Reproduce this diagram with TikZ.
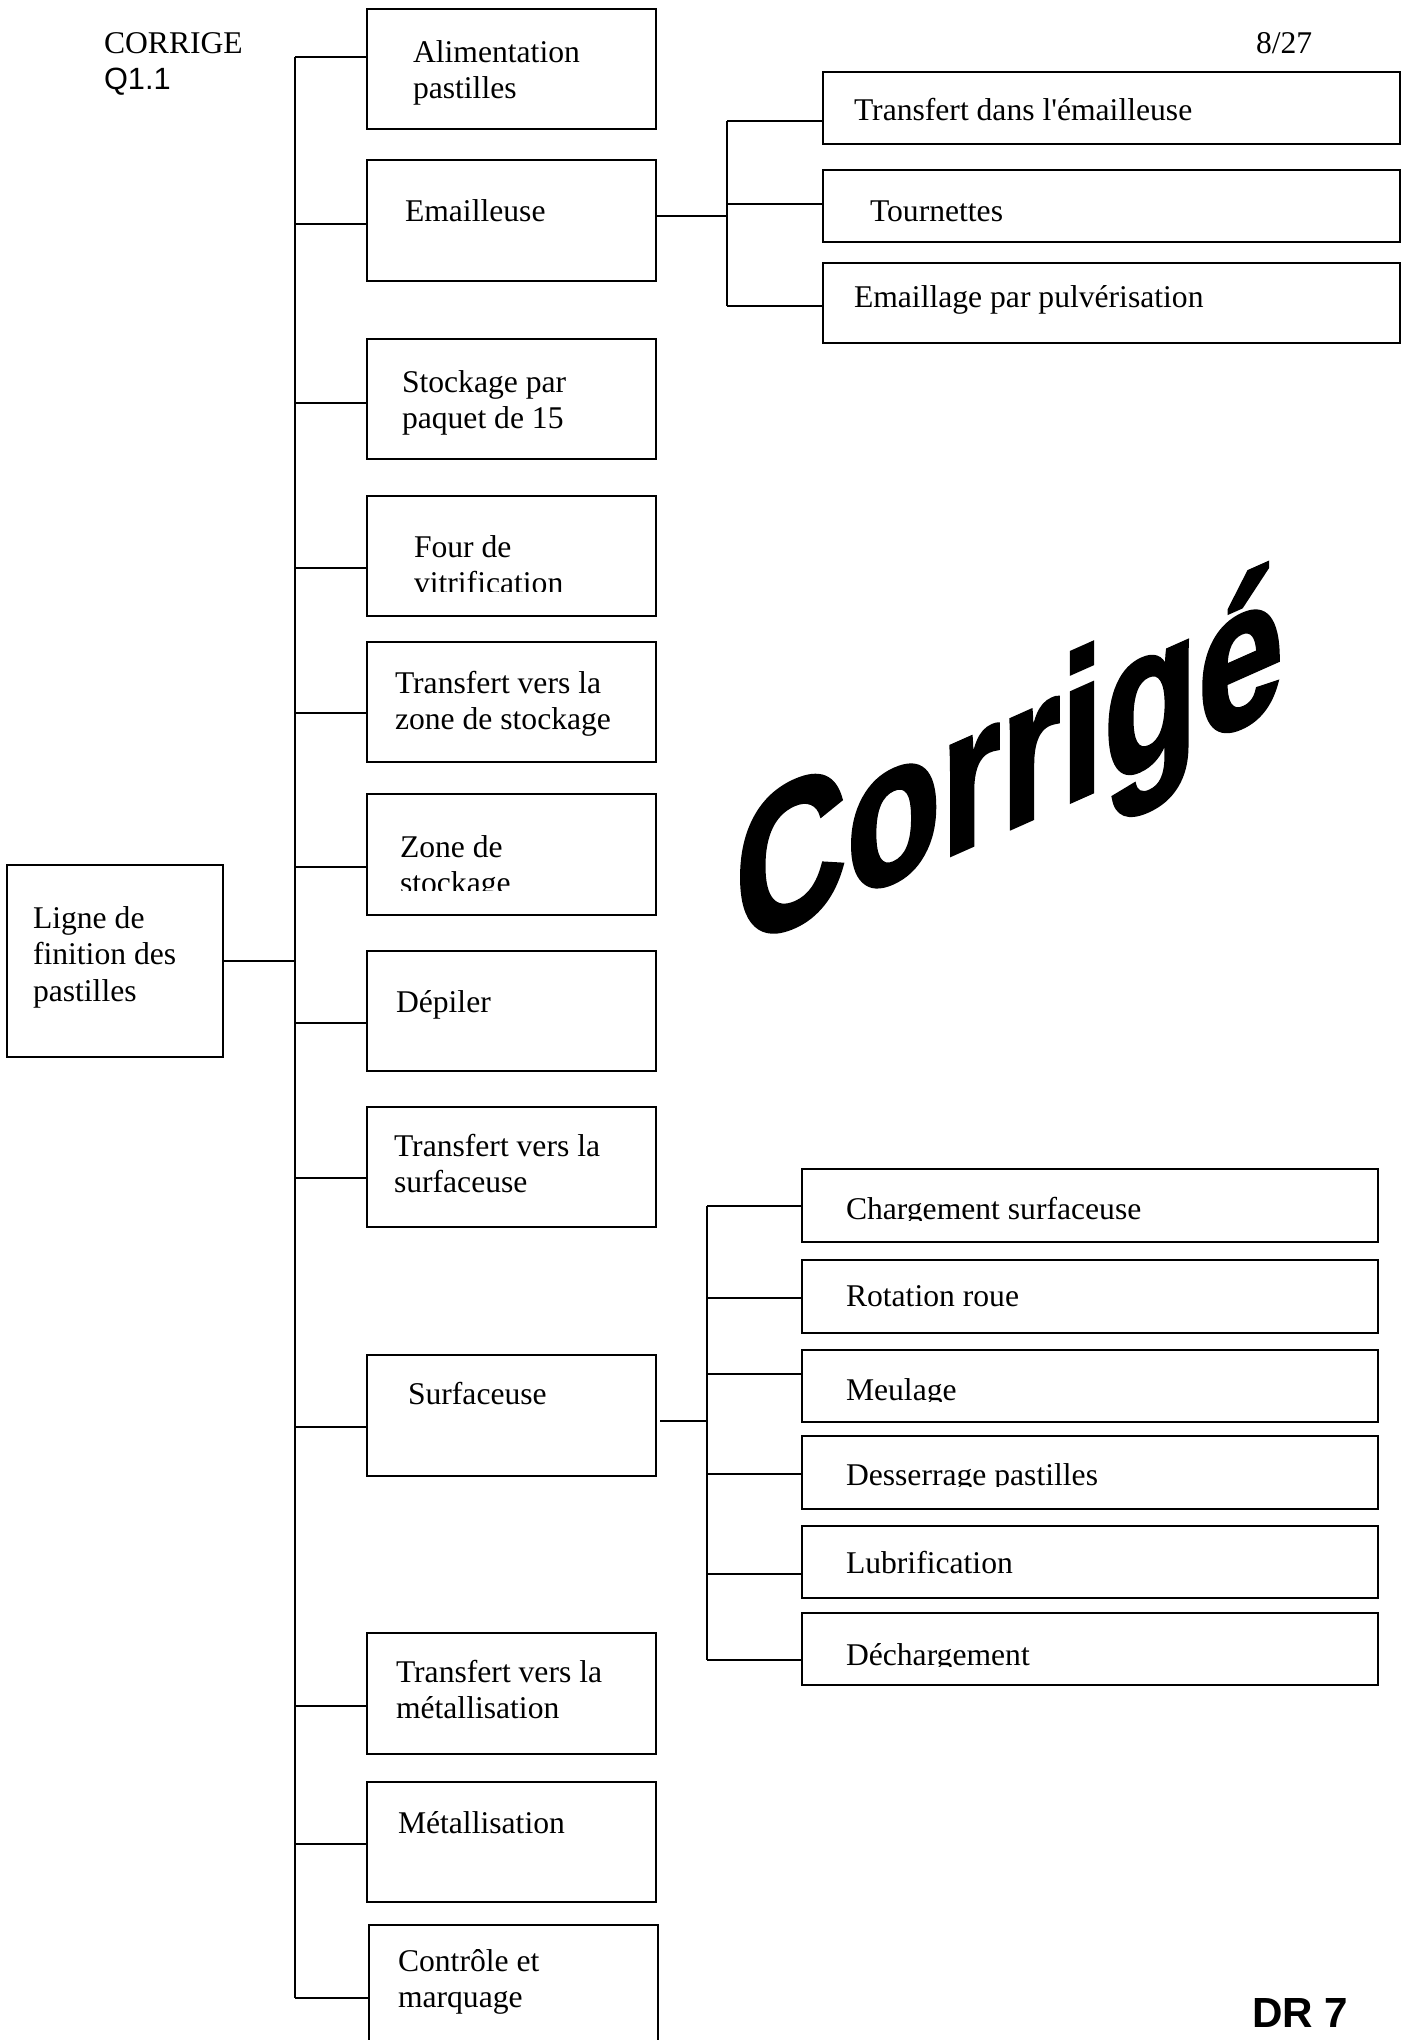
\documentclass[tikz,border=0pt]{standalone}
\usepackage{fontspec}
\setmainfont{Liberation Serif}
\newfontfamily\sansf{Liberation Sans}
\newfontfamily\wmfont{Liberation Sans Bold}[FakeBold=2]
\newcommand\mylines[1]{\begin{tabular}[t]{@{}l@{}}#1\end{tabular}}
\newcommand\mkbox[5]{\node[boxs, minimum width={(#4-#2)*0.02cm}, minimum height={(#5-#3)*0.02cm}] (#1) at ({(#2+#4)/2},{(#3+#5)/2}) {};}
\begin{document}
\begin{tikzpicture}[x=0.02cm,y=-0.02cm,
  boxs/.style={draw, line width=1.5pt, inner sep=0pt, outer sep=0pt, rectangle},
  thinbox/.style={boxs, line width=0.9pt},
  lbl/.style={anchor=base west, inner sep=0pt, outer sep=0pt, font=\fontsize{18pt}{20.9pt}\selectfont},
  conn/.style={line width=1.3pt}]
\path[use as bounding box, fill=white] (0,0) rectangle (1402,2040);

% header / footer texts
\node[lbl] (corr) at (104,53) {CORRIGE};
\node[lbl, font=\sansf\fontsize{17.5pt}{20pt}\selectfont] (q11) at (104,89) {Q1.1};
\node[lbl] (page) at (1256,53) {8/27};
\node[anchor=base west, inner sep=0pt, font=\sansf\bfseries\fontsize{24pt}{26pt}\selectfont] (dr) at (1252,2027) {DR 7};

% watermark
\begin{scope}[shift={(735,951)}]
\node[anchor=base west, inner sep=0pt, yslant=0.445, xscale=0.75, font=\wmfont\fontsize{117pt}{120pt}\selectfont] (wm) at (0,0) {Corrigé};
\end{scope}

% root
\node[thinbox, minimum width={216*0.02cm}, minimum height={192*0.02cm}] (ligne) at (115,961) {};
\node[lbl, font=\fontsize{18pt}{21pt}\selectfont] (tligne) at (33,928) {\mylines{Ligne de\\finition des\\pastilles}};

% main column boxes
\mkbox{alim}{367}{9}{656}{129}
\mkbox{emai}{367}{160}{656}{281}
\mkbox{stock}{367}{339}{656}{459}
\mkbox{four}{367}{496}{656}{616}
\mkbox{tzone}{367}{642}{656}{762}
\mkbox{zone}{367}{794}{656}{915}
\mkbox{depil}{367}{951}{656}{1071}
\mkbox{tsurf}{367}{1107}{656}{1227}
\mkbox{surf}{367}{1355}{656}{1476}
\mkbox{tmet}{367}{1633}{656}{1754}
\mkbox{met}{367}{1782}{656}{1902}
\mkbox{ctrl}{369}{1925}{658}{2070}

\node[lbl] (talim) at (413,62) {\mylines{Alimentation\\pastilles}};
\node[lbl] (temai) at (405,221) {Emailleuse};
\node[lbl] (tstock) at (402,392) {\mylines{Stockage par\\paquet de 15}};
\begin{scope}
\clip (367,496) rectangle (656,591);
\node[lbl] (tfour) at (414,557) {\mylines{Four de\\vitrification}};
\end{scope}
\node[lbl] (ttzone) at (395,693) {\mylines{Transfert vers la\\zone de stockage}};
\begin{scope}
\clip (367,794) rectangle (656,890);
\node[lbl] (tzonet) at (400,857) {\mylines{Zone de\\stockage}};
\end{scope}
\node[lbl] (tdepil) at (396,1012) {Dépiler};
\node[lbl] (ttsurf) at (394,1156) {\mylines{Transfert vers la\\surfaceuse}};
\node[lbl] (tsurft) at (408,1404) {Surfaceuse};
\node[lbl] (ttmet) at (396,1682) {\mylines{Transfert vers la\\métallisation}};
\node[lbl] (tmett) at (398,1833) {Métallisation};
\node[lbl] (tctrl) at (398,1971) {\mylines{Contrôle et\\marquage}};

% emailleuse sub-boxes
\mkbox{ea}{823}{72}{1400}{144}
\mkbox{eb}{823}{170}{1400}{242}
\mkbox{ec}{823}{263}{1400}{343}
\node[lbl] (tea) at (854,120) {Transfert dans l\textquotesingle émailleuse};
\node[lbl] (teb) at (870,221) {Tournettes};
\node[lbl] (tec) at (854,307) {Emaillage par pulvérisation};

% surfaceuse sub-boxes
\mkbox{sa}{802}{1169}{1378}{1242}
\mkbox{sb}{802}{1260}{1378}{1333}
\mkbox{sc}{802}{1350}{1378}{1422}
\mkbox{sd}{802}{1436}{1378}{1509}
\mkbox{se}{802}{1526}{1378}{1598}
\mkbox{sf}{802}{1613}{1378}{1685}
\begin{scope}
\clip (802,1169) rectangle (1378,1220);
\node[lbl] (tsa) at (846,1219) {Chargement surfaceuse};
\end{scope}
\node[lbl] (tsb) at (846,1306) {Rotation roue};
\begin{scope}
\clip (802,1350) rectangle (1378,1401);
\node[lbl] (tsc) at (846,1400) {Meulage};
\end{scope}
\begin{scope}
\clip (802,1436) rectangle (1378,1486);
\node[lbl] (tsd) at (846,1485) {Desserrage pastilles};
\end{scope}
\node[lbl] (tse) at (846,1573) {Lubrification};
\begin{scope}
\clip (802,1613) rectangle (1378,1666);
\node[lbl] (tsf) at (846,1665) {Déchargement};
\end{scope}

% trunk
\coordinate (k1) at (295,57);
\coordinate (k2) at (295,224);
\coordinate (k3) at (295,403);
\coordinate (k4) at (295,568);
\coordinate (k5) at (295,713);
\coordinate (k6) at (295,867);
\coordinate (k7) at (295,1023);
\coordinate (k8) at (295,1178);
\coordinate (k9) at (295,1427);
\coordinate (k10) at (295,1706);
\coordinate (k11) at (295,1844);
\coordinate (k12) at (295,1998);
\draw[conn] (k1) -- (k12);
\draw[conn] (ligne.east) -- (ligne.east -| k1);
\draw[conn] (k1) -- (k1 -| alim.west);
\draw[conn] (k2) -- (k2 -| emai.west);
\draw[conn] (k3) -- (k3 -| stock.west);
\draw[conn] (k4) -- (k4 -| four.west);
\draw[conn] (k5) -- (k5 -| tzone.west);
\draw[conn] (k6) -- (k6 -| zone.west);
\draw[conn] (k7) -- (k7 -| depil.west);
\draw[conn] (k8) -- (k8 -| tsurf.west);
\draw[conn] (k9) -- (k9 -| surf.west);
\draw[conn] (k10) -- (k10 -| tmet.west);
\draw[conn] (k11) -- (k11 -| met.west);
\draw[conn] (k12) -- (k12 -| ctrl.west);

% emailleuse branch
\coordinate (e0) at (727,216);
\coordinate (e1) at (727,121);
\coordinate (e2) at (727,204);
\coordinate (e3) at (727,306);
\draw[conn] (emai.east |- e0) -- (e0);
\draw[conn] (e1) -- (e3);
\draw[conn] (e1) -- (e1 -| ea.west);
\draw[conn] (e2) -- (e2 -| eb.west);
\draw[conn] (e3) -- (e3 -| ec.west);

% surfaceuse branch
\coordinate (s0) at (707,1421);
\coordinate (s1) at (707,1206);
\coordinate (s2) at (707,1298);
\coordinate (s3) at (707,1374);
\coordinate (s4) at (707,1474);
\coordinate (s5) at (707,1574);
\coordinate (s6) at (707,1660);
\draw[conn] ([xshift=0.08cm]surf.east |- s0) -- (s0);
\draw[conn] (s1) -- (s6);
\draw[conn] (s1) -- (s1 -| sa.west);
\draw[conn] (s2) -- (s2 -| sb.west);
\draw[conn] (s3) -- (s3 -| sc.west);
\draw[conn] (s4) -- (s4 -| sd.west);
\draw[conn] (s5) -- (s5 -| se.west);
\draw[conn] (s6) -- (s6 -| sf.west);
\end{tikzpicture}
\end{document}
